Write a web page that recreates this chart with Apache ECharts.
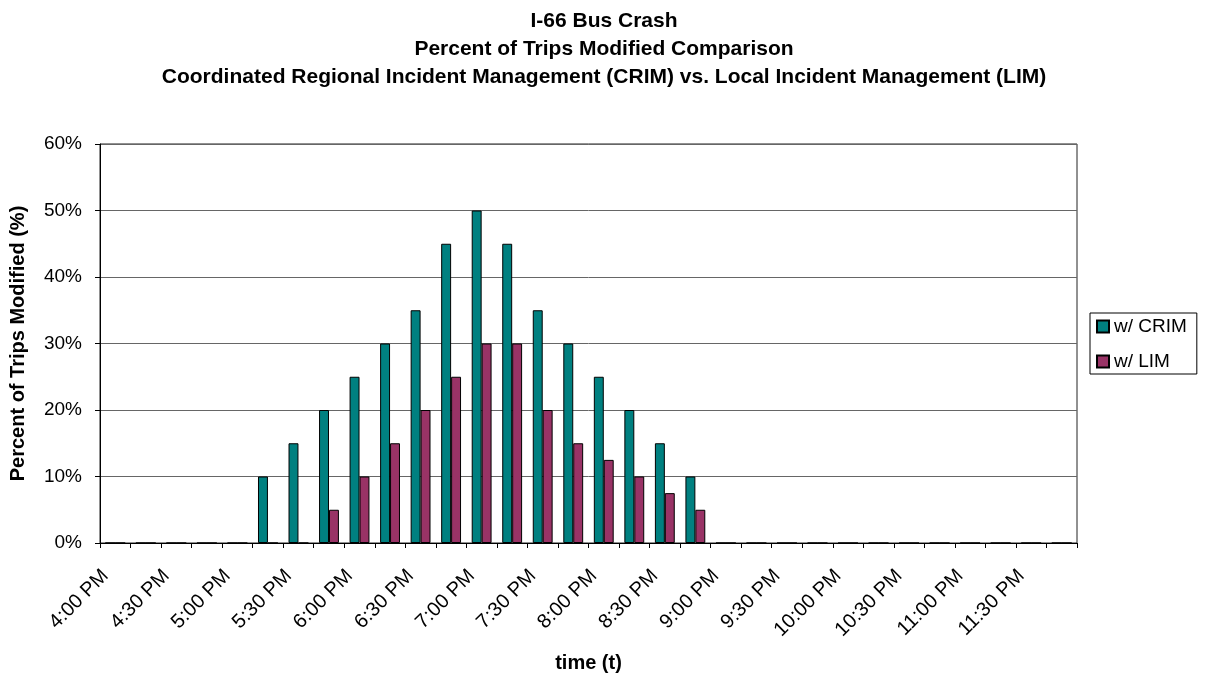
<!DOCTYPE html>
<html>
<head>
<meta charset="utf-8">
<script src="https://cdn.jsdelivr.net/npm/echarts@6/dist/echarts.min.js"></script>
<style>
  html, body { margin: 0; padding: 0; background: #fff; }
  #chart { width: 1208px; height: 675px; }
</style>
</head>
<body>
<div id="chart"></div>
<script>
// 15-minute time slots, 4:00 PM to 11:45 PM
const categories = [
  '4:00 PM', '4:15 PM', '4:30 PM', '4:45 PM', '5:00 PM', '5:15 PM', '5:30 PM', '5:45 PM',
  '6:00 PM', '6:15 PM', '6:30 PM', '6:45 PM', '7:00 PM', '7:15 PM', '7:30 PM', '7:45 PM',
  '8:00 PM', '8:15 PM', '8:30 PM', '8:45 PM', '9:00 PM', '9:15 PM', '9:30 PM', '9:45 PM',
  '10:00 PM', '10:15 PM', '10:30 PM', '10:45 PM', '11:00 PM', '11:15 PM', '11:30 PM', '11:45 PM'
];

// Percent of trips modified, per slot
const crimValues = [0, 0, 0, 0, 0, 10, 15, 20, 25, 30, 35, 45, 50, 45, 35, 30,
                    25, 20, 15, 10, 0, 0, 0, 0, 0, 0, 0, 0, 0, 0, 0, 0];
const limValues  = [0, 0, 0, 0, 0, 0, 0, 5, 10, 15, 20, 25, 30, 30, 20, 15,
                    12.5, 10, 7.5, 5, 0, 0, 0, 0, 0, 0, 0, 0, 0, 0, 0, 0];

const seriesNames = ['w/ CRIM', 'w/ LIM'];
const titleLines = [
  'I-66 Bus Crash',
  'Percent of Trips Modified Comparison',
  'Coordinated Regional Incident Management (CRIM) vs. Local Incident Management (LIM)'
];

const FONT = '"Liberation Sans", Arial, sans-serif';
const chart = echarts.init(document.getElementById('chart'), null, { renderer: 'canvas' });

chart.setOption({
  animation: false,
  backgroundColor: '#ffffff',
  title: {
    text: titleLines.join('\n'),
    left: 'center',
    top: 2,
    textStyle: { fontFamily: FONT, fontSize: 21, fontWeight: 'bold', color: '#000', lineHeight: 28 }
  },
  legend: {
    orient: 'vertical',
    left: 1090,
    top: 313,
    padding: [4, 10, 3, 6],
    itemGap: 16,
    itemWidth: 12,
    itemHeight: 12,
    icon: 'rect',
    borderColor: '#000',
    borderWidth: 1,
    textStyle: { fontFamily: FONT, fontSize: 19, color: '#000', padding: [0, 0, 0, 0] },
    data: seriesNames
  },
  grid: {
    left: 100, right: 131, top: 144, bottom: 132,
    outerBoundsMode: 'none',
    containLabel: false,
    show: true, borderColor: '#222', borderWidth: 1, backgroundColor: '#fff'
  },
  xAxis: {
    type: 'category',
    data: categories,
    boundaryGap: true,
    name: 'time (t)',
    nameLocation: 'middle',
    nameGap: 110,
    nameTextStyle: { fontFamily: FONT, fontSize: 20, fontWeight: 'bold', color: '#000' },
    axisLine: { lineStyle: { color: '#000', width: 1 } },
    axisTick: { show: true, interval: 0, length: 5, alignWithLabel: false, lineStyle: { color: '#000' } },
    axisLabel: {
      interval: 1,
      rotate: 45,
      margin: 20,
      padding: [0, 14, 0, 0],
      fontFamily: FONT, fontSize: 20, color: '#000'
    }
  },
  yAxis: {
    type: 'value',
    min: 0, max: 60, interval: 10,
    name: 'Percent of Trips Modified (%)',
    nameLocation: 'middle',
    nameRotate: 90,
    nameGap: 72,
    nameTextStyle: { fontFamily: FONT, fontSize: 20, fontWeight: 'bold', color: '#000' },
    axisLine: { show: true, lineStyle: { color: '#000', width: 1 } },
    axisTick: { show: true, length: 5, lineStyle: { color: '#000' } },
    axisLabel: { formatter: '{value}%', margin: 18, fontFamily: FONT, fontSize: 19, color: '#000' },
    splitLine: { show: true, lineStyle: { color: '#666', width: 1 } }
  },
  series: [
    {
      name: seriesNames[0],
      type: 'bar',
      data: crimValues,
      barGap: '0%',
      barCategoryGap: '35%',
      itemStyle: { color: '#008080', borderColor: '#000', borderWidth: 1 }
    },
    {
      name: seriesNames[1],
      type: 'bar',
      data: limValues,
      barGap: '0%',
      barCategoryGap: '35%',
      itemStyle: { color: '#993366', borderColor: '#000', borderWidth: 1 }
    }
  ]
});
</script>
</body>
</html>
